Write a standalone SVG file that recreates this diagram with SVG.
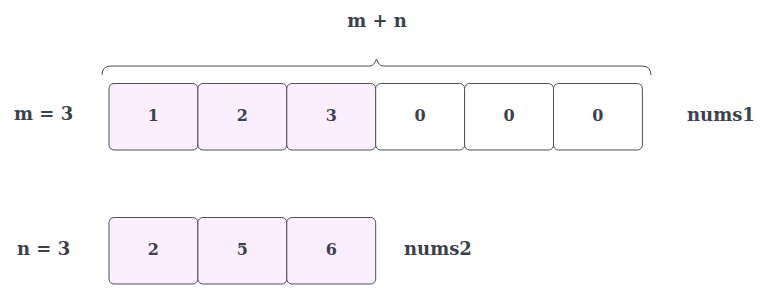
<svg xmlns="http://www.w3.org/2000/svg" width="777" height="294" viewBox="0 0 777 294">
<style>
.lbl{font-family:"DejaVu Serif",serif;font-weight:bold;font-size:18px;fill:#3c424d}
.num{font-family:"DejaVu Serif",serif;font-weight:bold;font-size:16px;fill:#3c424d;text-anchor:middle}
.cell{stroke:#4b505a;stroke-width:1}
.on{fill:#fbefff}
.off{fill:#ffffff}
</style>
<rect width="777" height="294" fill="#ffffff"/>
<g id="label-mn"><text class="lbl" x="377" y="27" text-anchor="middle">m + n</text></g>
<g id="brace"><path d="M102,75 Q102,66 111,66 L370,66 Q374,66 376.5,59 Q379,66 383,66 L642,66 Q651,66 651,75" fill="none" stroke="#4b505a" stroke-width="1"/></g>
<g id="label-m"><text class="lbl" x="14" y="120">m = 3</text></g>
<g id="label-nums1"><text class="lbl" x="687" y="121">nums1</text></g>
<g id="label-n"><text class="lbl" x="17" y="255">n = 3</text></g>
<g id="label-nums2"><text class="lbl" x="404" y="255">nums2</text></g>
<g id="nums1-0"><rect class="cell on" x="109" y="83.5" width="88.9" height="66.5" rx="5"/><text class="num" x="153.4" y="121">1</text></g>
<g id="nums1-1"><rect class="cell on" x="197.9" y="83.5" width="88.9" height="66.5" rx="5"/><text class="num" x="242.3" y="121">2</text></g>
<g id="nums1-2"><rect class="cell on" x="286.8" y="83.5" width="88.9" height="66.5" rx="5"/><text class="num" x="331.2" y="121">3</text></g>
<g id="nums1-3"><rect class="cell off" x="375.7" y="83.5" width="88.9" height="66.5" rx="5"/><text class="num" x="420.1" y="121">0</text></g>
<g id="nums1-4"><rect class="cell off" x="464.6" y="83.5" width="88.9" height="66.5" rx="5"/><text class="num" x="509" y="121">0</text></g>
<g id="nums1-5"><rect class="cell off" x="553.5" y="83.5" width="88.9" height="66.5" rx="5"/><text class="num" x="597.9" y="121">0</text></g>
<g id="nums2-0"><rect class="cell on" x="109" y="217.5" width="88.9" height="66.5" rx="5"/><text class="num" x="153.4" y="255">2</text></g>
<g id="nums2-1"><rect class="cell on" x="197.9" y="217.5" width="88.9" height="66.5" rx="5"/><text class="num" x="242.3" y="255">5</text></g>
<g id="nums2-2"><rect class="cell on" x="286.8" y="217.5" width="88.9" height="66.5" rx="5"/><text class="num" x="331.2" y="255">6</text></g>
<g id="connectors"></g>
</svg>
